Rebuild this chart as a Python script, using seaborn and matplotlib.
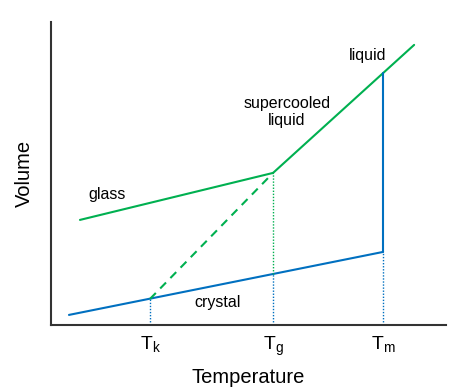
import matplotlib
matplotlib.use("Agg")
import matplotlib.pyplot as plt
import pandas as pd
import seaborn as sns

# values (arbitrary units)
t_marks = [99, 222, 332]
t_labels = ["T$_\\mathregular{k}$", "T$_\\mathregular{g}$", "T$_\\mathregular{m}$"]

crystal_t = [18, 332]
crystal_v = [10, 73]
glass_t = [29, 222]
glass_v = [105, 152]
liquid_t = [222, 363]
liquid_v = [152, 280]
kauzmann_t = [99, 222]
kauzmann_v = [26, 152]
melt_t = [332, 332]
melt_v = [73, 252]
crystal_at = [26, 51, 73]

GREEN = "#00b050"
BLUE = "#0070c0"

sns.set_style("white")
plt.rcParams["font.family"] = ["Liberation Sans", "DejaVu Sans"]
plt.rcParams["mathtext.fontset"] = "custom"
plt.rcParams["mathtext.rm"] = "Liberation Sans"
plt.rcParams["text.color"] = "black"
plt.rcParams["axes.labelcolor"] = "black"
plt.rcParams["xtick.color"] = "black"

fig = plt.figure(figsize=(4.59, 3.91), dpi=100)
ax = fig.add_axes([0.111, 0.169, 0.861, 0.775])


def line(t, v, color, **kw):
    df = pd.DataFrame({"T": t, "V": v})
    sns.lineplot(data=df, x="T", y="V", color=color, ax=ax, sort=False,
                 estimator=None, errorbar=None, **kw)


line(crystal_t, crystal_v, BLUE, lw=1.5)
line(glass_t, glass_v, GREEN, lw=1.5)
line(liquid_t, liquid_v, GREEN, lw=1.5)
line(kauzmann_t, kauzmann_v, GREEN, lw=1.5, linestyle=(0, (4, 3)))
line(melt_t, melt_v, BLUE, lw=1.5)

# dotted guides down to the axis
for t, v in zip(t_marks, crystal_at):
    line([t, t], [0, v], BLUE, lw=1, linestyle=(0, (1, 1.2)))
line([t_marks[1], t_marks[1]], [crystal_at[1], glass_v[1]], GREEN, lw=1,
     linestyle=(0, (1, 1.2)))

ax.text(317, 269, "liquid", fontsize=11.5, ha="center", va="center")
ax.text(236, 213, "supercooled\nliquid", fontsize=11.5, ha="center", va="center",
        linespacing=1.1)
ax.text(56, 130, "glass", fontsize=11.5, ha="center", va="center")
ax.text(167, 22, "crystal", fontsize=11.5, ha="center", va="center")

ax.set_xlim(0, 395)
ax.set_ylim(0, 303)
ax.set_xticks(t_marks)
ax.set_xticklabels(t_labels, fontsize=14)
ax.set_yticks([])
ax.tick_params(axis="x", length=0, pad=7)
ax.set_xlabel("Temperature", fontsize=14.5, labelpad=7)
ax.set_ylabel("Volume", fontsize=14.5, labelpad=12)
for s in ["top", "right"]:
    ax.spines[s].set_visible(False)
for s in ["left", "bottom"]:
    ax.spines[s].set_color("#333333")
    ax.spines[s].set_linewidth(1.5)

fig.savefig("out.png", dpi=100)
